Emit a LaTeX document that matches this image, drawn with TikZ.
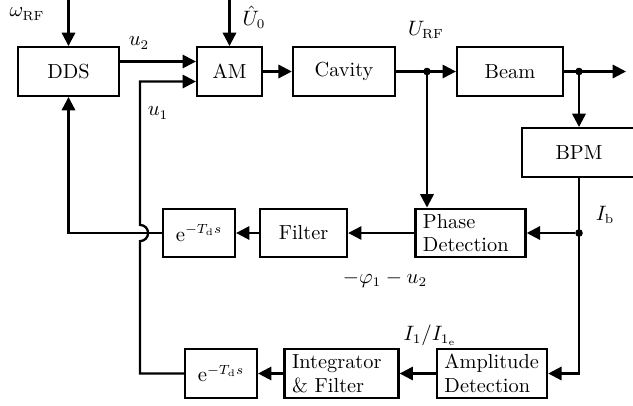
\documentclass[tikz,border=0pt]{standalone}
\usepackage{amsmath,amssymb}
\usetikzlibrary{arrows.meta}
\tikzset{
    block/.style={
           rectangle,
           draw=black, line width=1.2pt,
           minimum height=0.9cm,
           inner xsep=4pt,
           inner ysep=2.6pt,
           text centered
           },
    twoline/.style={
           align=left,
           text width=#1
           },
    point/.style={
           circle,
           inner sep=0pt, outer sep=0pt,
           minimum width=4pt,
           fill
           }
}

\begin{document}
\begin{tikzpicture}[x=0.0185cm, y=-0.0185cm, line width=1.2pt,
                    font=\fontsize{10.7}{12.4}\selectfont,
                    >={Triangle[length=7pt,width=7pt]}]
   \useasboundingbox (0,0) rectangle (633,405);
   % forward path
   \node[block, minimum width=1.87cm] (dds)   at (68.5,71.5)  {DDS};
   \node[block, minimum width=1.20cm] (am)    at (229.5,71.5) {AM};
   \node[block, minimum width=1.89cm] (cav)   at (344,71.5)   {Cavity};
   \node[block, minimum width=1.96cm] (beam)  at (510,71.5)   {Beam};
   \node[block, minimum width=2.11cm] (bpm)   at (579,152.5)  {BPM};
   % phase loop
   \node[block, twoline=50pt]         (phase) at (470.5,233)  {Phase\\Detection};
   \node[block, minimum width=1.61cm] (filter) at (303.5,233) {Filter};
   \node[block, minimum width=1.33cm] (ed1)   at (199,233)    {$\mathrm{e}^{-T_\mathrm{d}s}$};
   % amplitude loop
   \node[block, twoline=50pt]         (ampl)  at (492,373.5)  {Amplitude\\Detection};
   \node[block, twoline=52pt]         (integ) at (341.5,373.5) {Integrator\\\& Filter};
   \node[block, minimum width=1.33cm] (ed2)   at (221,373.5)  {$\mathrm{e}^{-T_\mathrm{d}s}$};

   \coordinate (wrf) at (68.5,-2);
   \coordinate (u0)  at (229.5,-2);
   \coordinate (out) at (626,71.5);
   \coordinate (hop) at (140,233);
   \node[point] (p1) at (427,71.5) {};
   \node[point] (p2) at (579,71.5) {};
   \node[point] (p3) at (579,233)  {};

   % signal labels
   \node (lwrf) at (27,14)   {$\omega_{\mathrm{RF}}$};
   \node (lu2)  at (139,43)  {$u_2$};
   \node (lu1)  at (158,113) {$u_1$};
   \node[inner sep=1pt] (lu0) at (254,17) {$\hat{U}_0$};
   \node (lurf) at (426,30)  {$U_{\mathrm{RF}}$};
   \node (lib)  at (605,215) {$I_{\mathrm{b}}$};
   \node (lphi) at (385,279) {$-\varphi_1-u_2$};
   \node (li1)  at (430,335) {$I_1/I_{1_{\mathrm{e}}}$};

   \path[->]
    (wrf)  edge (dds)
    ([yshift=1.85mm]dds.east) edge ([yshift=1.85mm]am.west)
    (u0)   edge (am)
    (am)   edge (cav)
    (cav)  edge (beam)
    (beam) edge (out)
    (p1)   edge (p1 |- phase.north)
    (p2)   edge (bpm)
    (p3)   edge (phase)
    (phase)  edge (filter)
    (filter) edge (ed1)
    (ampl)   edge (integ)
    (integ)  edge (ed2)
    ;
   \draw[->] (bpm) |- (ampl);
   \draw[->] (ed1) -| (dds);
   \draw[->] (ed2.west) -- (ed2.west -| hop) -- ([yshift=-1.5mm]hop)
             arc[start angle=-90, end angle=90, radius=1.5mm]
             |- ([yshift=-1.85mm]am.west);
\end{tikzpicture}
\end{document}
